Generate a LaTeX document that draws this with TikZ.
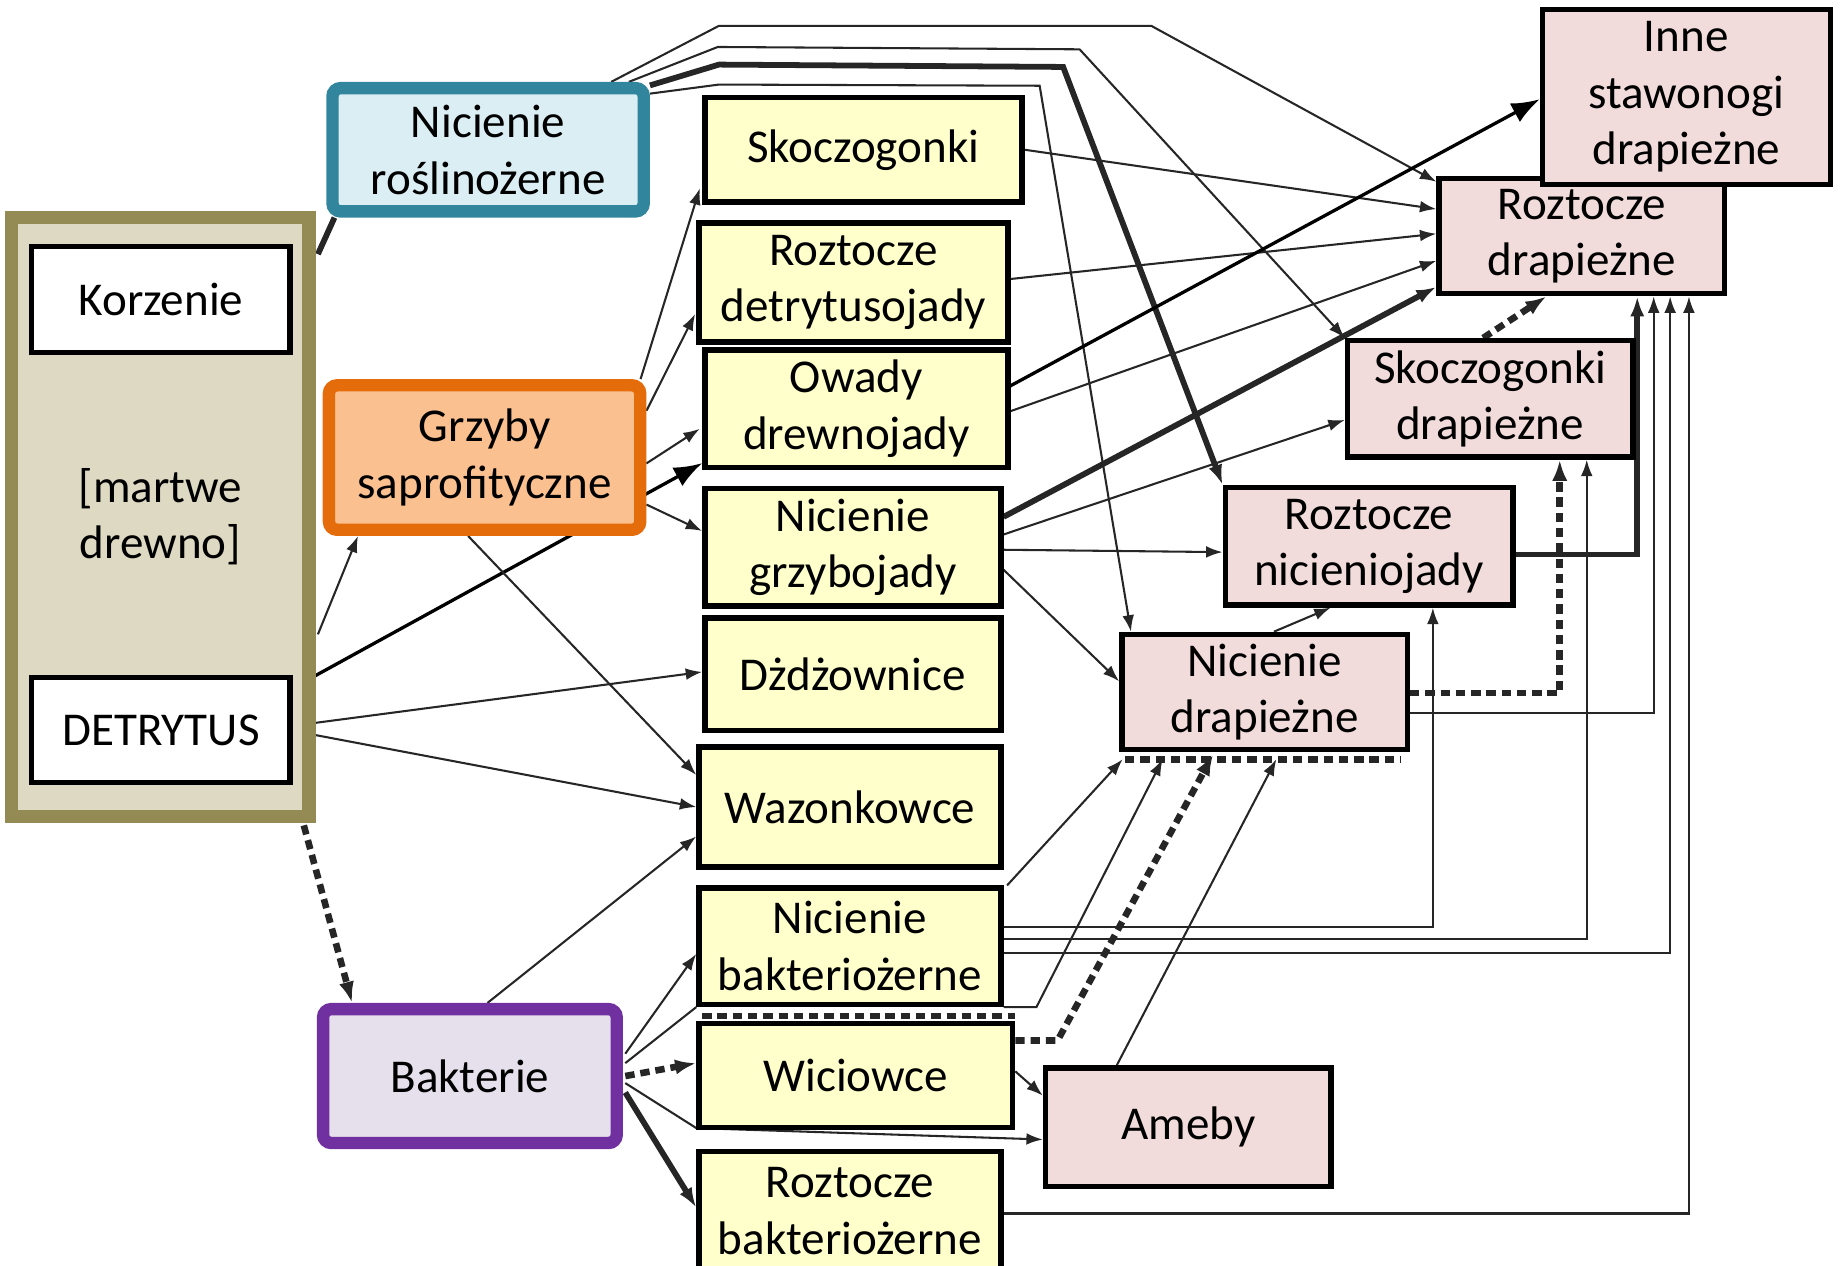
\documentclass[tikz,border=0pt]{standalone}
\usepackage{fontspec}
\setmainfont{Carlito}
\usepackage{tikz}
\usetikzlibrary{
	arrows.meta,
	calc,
	backgrounds,
	positioning
}
\definecolor{OliveLine}{RGB}{148,138,84}
\definecolor{OliveFill}{RGB}{221,217,195}
\definecolor{TealLine}{RGB}{49,133,156}
\definecolor{TealFill}{RGB}{219,238,244}
\definecolor{OrangeLine}{RGB}{228,108,10}
\definecolor{OrangeFill}{RGB}{250,192,144}
\definecolor{PurpleLine}{RGB}{112,48,160}
\definecolor{PurpleFill}{RGB}{229,224,236}
\definecolor{YellowFill}{RGB}{255,255,204}
\definecolor{PinkFill}{RGB}{242,220,219}

\tikzset{
	box/.style={draw=black, line width=1.3pt, inner sep=0pt, align=center,
		font=\fontsize{11.4}{13.7}\selectfont},
	wbox/.style={box, fill=white},
	ybox/.style={box, fill=YellowFill},
	pbox/.style={box, fill=PinkFill},
	cbox/.style={box, line width=3pt, rounded corners=2pt},
	feed/.style={draw=black!85, line width=0.5pt, -{Latex[length=1.4mm,width=1mm]}},
	feedthick/.style={feed, line width=1.4pt, -{Latex[length=1.7mm,width=1.2mm]}},
	feeddash/.style={feed, line width=1.6pt, dash pattern=on 0.8mm off 0.5mm, -{Latex[length=1.8mm,width=1.3mm]}},
	feedbig/.style={draw=black, line width=0.8pt, -{Latex[length=2.4mm,width=1.8mm]}},
	feedplain/.style={draw=black!85, line width=0.5pt},
	dashline/.style={draw=black!85, line width=1.6pt, dash pattern=on 0.8mm off 0.5mm}
}

\begin{document}
\begin{tikzpicture}[x=0.1mm,y=-0.1mm]
		\useasboundingbox (0,0) rectangle (1568,1077);
		
		% martwe drewno
		\node[cbox, rounded corners=0pt, draw=OliveLine, fill=OliveFill, line width=3.2pt,
			minimum width=25.3mm, minimum height=51mm] (drewno) at (136.5,440) {[martwe\\drewno]};
		\node[wbox, minimum width=22mm, minimum height=9mm] (korz) at (137,255) {Korzenie};
		\node[wbox, minimum width=22mm, minimum height=8.9mm] (detr) at (137,621.5) {DETRYTUS};
		
		% zasoby
		\node[cbox, draw=TealLine, fill=TealFill, minimum width=26.5mm, minimum height=10.5mm]
			(nrosl) at (415.5,127.5) {Nicienie\\roślinożerne};
		\node[cbox, draw=OrangeLine, fill=OrangeFill, minimum width=26.5mm, minimum height=12.3mm]
			(grzyby) at (412.5,389.5) {Grzyby\\saprofityczne};
		\node[cbox, draw=PurpleLine, fill=PurpleFill, minimum width=25mm, minimum height=11.4mm]
			(bakt) at (400,916) {Bakterie};
		
		% konsumenci
		\node[ybox, minimum width=27mm, minimum height=8.9mm] (skocz) at (735,127.5) {Skoczogonki};
		\node[ybox, minimum width=26.3mm, minimum height=10.1mm] (rdet) at (726.5,240.5) {Roztocze\\detrytusojady};
		\node[ybox, minimum width=25.8mm, minimum height=10mm] (owady) at (729,348) {Owady\\drewnojady};
		\node[ybox, minimum width=25.2mm, minimum height=10mm] (ngrzyb) at (726,466) {Nicienie\\grzybojady};
		\node[ybox, minimum width=25.2mm, minimum height=9.6mm] (dzdz) at (726,574) {Dżdżownice};
		\node[ybox, minimum width=25.7mm, minimum height=10.2mm] (wazon) at (723.5,687) {Wazonkowce};
		\node[ybox, minimum width=25.7mm, minimum height=9.9mm] (nbakt) at (723.5,805.5) {Nicienie\\bakteriożerne};
		\node[ybox, minimum width=26.7mm, minimum height=8.9mm] (wic) at (728.5,915.5) {Wiciowce};
		\node[ybox, minimum width=25.7mm, minimum height=10.2mm] (rbakt) at (723.5,1031) {Roztocze\\bakteriożerne};
		
		% drapieżcy
		\node[pbox, minimum width=24.3mm, minimum height=9.8mm] (rdrap) at (1346.5,201) {Roztocze\\drapieżne};
		\node[pbox, minimum width=24.5mm, minimum height=14.9mm] (inne) at (1435.5,82.5) {Inne\\stawonogi\\drapieżne};
		\node[pbox, minimum width=24.3mm, minimum height=9.9mm] (sdrap) at (1268.5,339.5) {Skoczogonki\\drapieżne};
		\node[pbox, minimum width=24.5mm, minimum height=10mm] (rnic) at (1165.5,465) {Roztocze\\nicieniojady};
		\node[pbox, minimum width=24.3mm, minimum height=9.8mm] (ndrap) at (1076.5,589) {Nicienie\\drapieżne};
		\node[pbox, minimum width=24.3mm, minimum height=10.1mm] (ameby) at (1011.5,959.5) {Ameby};
		
		% linie przerywane przy ramkach
		\draw[dashline] ($(ndrap.south west)+(5,6)$) -- ($(ndrap.south east)+(-8,6)$);
		\draw[dashline] ($(wic.north west)+(5,-4)$) -- ($(wic.north east)+(0,-4)$);
		
		\begin{scope}[on background layer]
			% z drewna
			\draw[feedplain, line width=1.4pt] ($(drewno.north east)+(2,37)$) -- ($(nrosl.south west)+(7,0)$);
			\draw[feed] ($(drewno.east)+(2,100)$) -- ($(grzyby.south west)+(30,0)$);
			\draw[feeddash] ($(drewno.south east)+(-10,2)$) -- ($(bakt.north west)+(30,0)$);
			\draw[feedbig] ($(detr.north east)+(0,11)$) -- ($(owady.south west)+(0,-6)$);
			\draw[feed] ($(detr.east)+(18,-6)$) -- ($(dzdz.west)+(0,-2)$);
			\draw[feed] ($(detr.east)+(18,4)$) -- (wazon.west);
			
			% nicienie roślinożerne (górą)
			\draw[feed] ($(nrosl.north east)+(-33,0)$) -- (612,22) -- (980,22) -- ($(rdrap.north west)+(0,5)$);
			\draw[feed] ($(nrosl.north east)+(-18,0)$) -- (611,40) -- (919,42) -- (sdrap.north west);
			\draw[feedthick] ($(nrosl.north east)+(0,3)$) -- (612,55) -- (905,57) -- (rnic.north west);
			\draw[feed] ($(nrosl.north east)+(0,10)$) -- (612,72) -- (885,73) -- ($(ndrap.north west)+(10,0)$);
			
			% grzyby
			\draw[feed] ($(grzyby.north east)+(-5,0)$) -- ($(skocz.south west)+(-2,-14)$);
			\draw[feed] ($(grzyby.north east)+(0,27)$) -- ($(rdet.south west)+(-1,-26)$);
			\draw[feed] ($(grzyby.east)+(0,5)$) -- ($(owady.west)+(-2,17)$);
			\draw[feed] ($(grzyby.east)+(0,40)$) -- ($(ngrzyb.west)+(0,-14)$);
			\draw[feed] ($(grzyby.south)+(-14,0)$) -- ($(wazon.north west)+(0,26)$);
			
			% bakterie
			\draw[feed] ($(bakt.north)+(15,0)$) -- ($(wazon.west)+(0,25)$);
			\draw[feed] ($(bakt.east)+(2,-19)$) -- ($(nbakt.west)+(0,6.5)$);
			\draw[feedplain] ($(bakt.east)+(2,-11)$) -- (nbakt.south west);
			\draw[feeddash] ($(bakt.east)+(2,0)$) -- ($(wic.west)+(0,-10.5)$);
			\draw[feed] ($(bakt.east)+(2,6)$) -- ($(wic.south west)+(0,-2)$) -- ($(ameby.west)+(0,10.5)$);
			\draw[feedthick] ($(bakt.east)+(2,14)$) -- ($(rbakt.west)+(0,-3)$);
			
			% do roztoczy drapieżnych
			\draw[feed] (skocz.east) -- ($(rdrap.west)+(0,-23)$);
			\draw[feed] ($(rdet.east)+(0,-3)$) -- ($(rdrap.west)+(0,-2)$);
			\draw[feed] ($(owady.east)+(0,2)$) -- ($(rdrap.west)+(0,21)$);
			\draw[feedbig] ($(owady.east)+(-3,-18)$) -- ($(inne.west)+(0,2)$);
			\draw[feedthick] ($(ngrzyb.east)+(0,-26)$) -- ($(rdrap.south west)+(0,-8)$);
			\draw[feed] ($(ngrzyb.east)+(0,-11)$) -- ($(sdrap.west)+(0,18)$);
			\draw[feed] ($(ngrzyb.east)+(0,2)$) -- ($(rnic.west)+(0,5)$);
			\draw[feed] ($(ngrzyb.east)+(0,19)$) -- ($(ndrap.west)+(0,-9)$);
			
			% nicienie drapieżne
			\draw[feed] ($(ndrap.north)+(8,0)$) -- ($(rnic.south west)+(92,0)$);
			\draw[feeddash] ($(ndrap.east)+(0,1)$) -| ($(sdrap.south west)+(183,0)$);
			\draw[feed] ($(ndrap.east)+(0,18)$) -| ($(rdrap.south west)+(185,0)$);
			\draw[feedthick] ($(rnic.east)+(0,7)$) -| ($(rdrap.south west)+(171,0)$);
			\draw[feeddash] ($(sdrap.north)+(-6,0)$) -- ($(rdrap.south)+(-30,0)$);
			
			% nicienie bakteriożerne i reszta
			\draw[feed] ($(nbakt.north east)+(3,0)$) -- ($(ndrap.south west)+(3,6)$);
			\draw[feed] (nbakt.south east) -- ($(nbakt.south east)+(28,0)$) -- ($(ndrap.south west)+(37,6)$);
			\draw[feed] ($(nbakt.east)+(0,-16.5)$) -| ($(rnic.south west)+(179,0)$);
			\draw[feed] ($(nbakt.east)+(0,-6.5)$) -| ($(sdrap.south west)+(206,0)$);
			\draw[feed] ($(nbakt.east)+(0,5.5)$) -| ($(rdrap.south west)+(199,0)$);
			\draw[feed] ($(rbakt.east)+(0,2)$) -| ($(rdrap.south west)+(215,0)$);
			\draw[feeddash] ($(wic.north east)+(0,17)$) -- ($(wic.north east)+(36,17)$) -- ($(ndrap.south west)+(80,2)$);
			\draw[feed] ($(wic.east)+(0,-3.5)$) -- ($(ameby.north west)+(0,26)$);
			\draw[feed] ($(ameby.north west)+(63,0)$) -- ($(ndrap.south)+(10,6)$);
		\end{scope}
	\end{tikzpicture}
\end{document}
